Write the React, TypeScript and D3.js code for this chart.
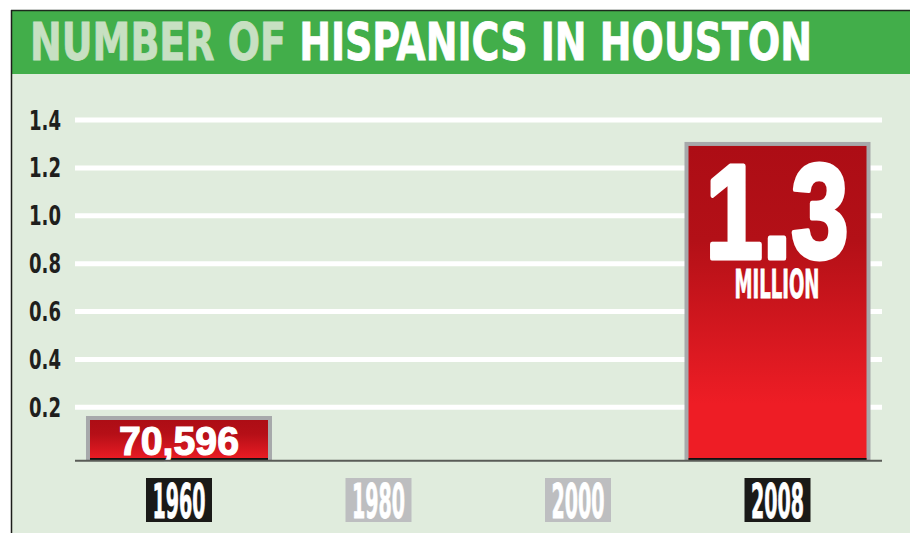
import React from "react";
import * as d3 from "d3";

const categories = ["1960", "1980", "2000", "2008"];
const values = [0.070596, null, null, 1.3];
const barLabels = ["70,596", "", "", "1.3"];
const barSubLabels = ["", "", "", "MILLION"];
const yTicks = [0.2, 0.4, 0.6, 0.8, 1.0, 1.2, 1.4];
const titleMuted = "NUMBER OF ";
const titleMain = "HISPANICS IN HOUSTON";

const W = 910;
const H = 533;
const COND = "'Liberation Sans Narrow', 'DejaVu Sans Condensed', 'Roboto Condensed', 'Arial Narrow', sans-serif";

export default function App() {
  const y = d3.scaleLinear().domain([0, 1.4]).range([455.2, 120]);
  const x = d3
    .scaleBand<string>()
    .domain(categories)
    .range([79.25, 877.25])
    .paddingInner(0.0677)
    .paddingOuter(0.0338);
  const baseline = 460;
  const gridX0 = 75;
  const gridX1 = 882;
  const minBox = 44;

  return (
    <svg
      width={W}
      height={H}
      style={{ position: "absolute", left: 0, top: 0, display: "block" }}
    >
      <defs>
        <linearGradient id="redGrad" x1="0" y1="0" x2="0" y2="1">
          <stop offset="0" stopColor="#AD0D15" />
          <stop offset="0.3" stopColor="#B31017" />
          <stop offset="0.82" stopColor="#EE1D25" />
          <stop offset="1" stopColor="#EE1D25" />
        </linearGradient>
        <linearGradient id="redGradSmall" x1="0" y1="0" x2="0" y2="1">
          <stop offset="0" stopColor="#AD0D15" />
          <stop offset="0.35" stopColor="#B50F17" />
          <stop offset="1" stopColor="#EC1C24" />
        </linearGradient>
      </defs>
      <rect x={0} y={0} width={W} height={H} fill="#ffffff" />
      {/* panel */}
      <rect x={12} y={74} width={W - 12} height={H - 74} fill="#E0ECDD" />
      {/* header */}
      <rect x={12} y={11} width={W - 12} height={63} fill="#42AE4A" />
      <line x1={11} x2={W} y1={10.5} y2={10.5} stroke="#1d2a1d" strokeWidth={1.5} />
      <line x1={11.5} x2={11.5} y1={10} y2={H} stroke="#1d1d1b" strokeWidth={1.5} />
      <text
        x={30}
        y={60}
        fontFamily={COND}
        fontWeight="bold"
        fontSize={52}
        textLength={782}
        lengthAdjust="spacingAndGlyphs"
        strokeWidth={0.8}
      >
        <tspan fill="#C7E0C2" stroke="#C7E0C2">{titleMuted}</tspan>
        <tspan fill="#ffffff" stroke="#ffffff">{titleMain}</tspan>
      </text>

      {/* gridlines & y labels */}
      {yTicks.map((t) => (
        <g key={t}>
          <line x1={gridX0} x2={gridX1} y1={y(t)} y2={y(t)} stroke="#ffffff" strokeWidth={5} />
          <text
            x={29}
            y={y(t) + 9.5}
            fontFamily={COND}
            fontWeight="bold"
            fontSize={26}
            fill="#1F1F1D"
            textLength={32}
            lengthAdjust="spacingAndGlyphs"
          >
            {t.toFixed(1)}
          </text>
        </g>
      ))}

      {/* bars */}
      {categories.map((c, i) => {
        const v = values[i];
        if (v == null) return null;
        const bx = x(c) as number;
        const bw = x.bandwidth();
        const top = Math.min(y(v) - 2, baseline - minBox);
        const small = baseline - top < 60;
        return (
          <g key={c}>
            <rect x={bx} y={top} width={bw} height={baseline - top} fill="#A7A9AB" />
            <rect
              x={bx + 4}
              y={top + 4}
              width={bw - 8}
              height={baseline - top - 4}
              fill={small ? "url(#redGradSmall)" : "url(#redGrad)"}
            />
            <rect x={bx + 4} y={baseline - 2} width={bw - 8} height={2} fill="#111" />
            {small ? (
              <text
                x={bx + bw / 2}
                y={baseline - 5}
                textAnchor="middle"
                fontFamily="'Liberation Sans', Arial, sans-serif"
                fontWeight="bold"
                fontSize={41}
                fill="#ffffff"
                stroke="#ffffff"
                strokeWidth={1.2}
                textLength={120}
                lengthAdjust="spacingAndGlyphs"
              >
                {barLabels[i]}
              </text>
            ) : (
              <g>
                <text
                  x={bx + bw / 2 - 0.5}
                  y={top + 116}
                  textAnchor="middle"
                  fontFamily="'Liberation Sans', Arial, sans-serif"
                  fontWeight="bold"
                  fontSize={133}
                  fill="#ffffff"
                  stroke="#ffffff"
                  strokeWidth={5}
                  strokeLinejoin="round"
                  textLength={143}
                  lengthAdjust="spacingAndGlyphs"
                >
                  {barLabels[i]}
                </text>
                <text
                  x={bx + bw / 2 - 0.5}
                  y={top + 156}
                  textAnchor="middle"
                  fontFamily={COND}
                  fontWeight="bold"
                  fontSize={39}
                  fill="#ffffff"
                  stroke="#ffffff"
                  strokeWidth={0.8}
                  textLength={85}
                  lengthAdjust="spacingAndGlyphs"
                >
                  {barSubLabels[i]}
                </text>
              </g>
            )}
          </g>
        );
      })}

      {/* axis line */}
      <line x1={gridX0} x2={gridX1} y1={baseline + 0.8} y2={baseline + 0.8} stroke="#5A5C57" strokeWidth={2} />

      {/* x labels */}
      {categories.map((c, i) => {
        const cx = (x(c) as number) + x.bandwidth() / 2;
        const has = values[i] != null;
        return (
          <g key={c}>
            <rect x={cx - 33} y={478} width={66} height={44} fill={has ? "#1A1A18" : "#BDBEC0"} />
            <text
              x={cx}
              y={518}
              textAnchor="middle"
              fontFamily={COND}
              fontWeight="bold"
              fontSize={48}
              fill="#ffffff"
              stroke="#ffffff"
              strokeWidth={0.8}
              textLength={53}
              lengthAdjust="spacingAndGlyphs"
            >
              {c}
            </text>
          </g>
        );
      })}
    </svg>
  );
}
